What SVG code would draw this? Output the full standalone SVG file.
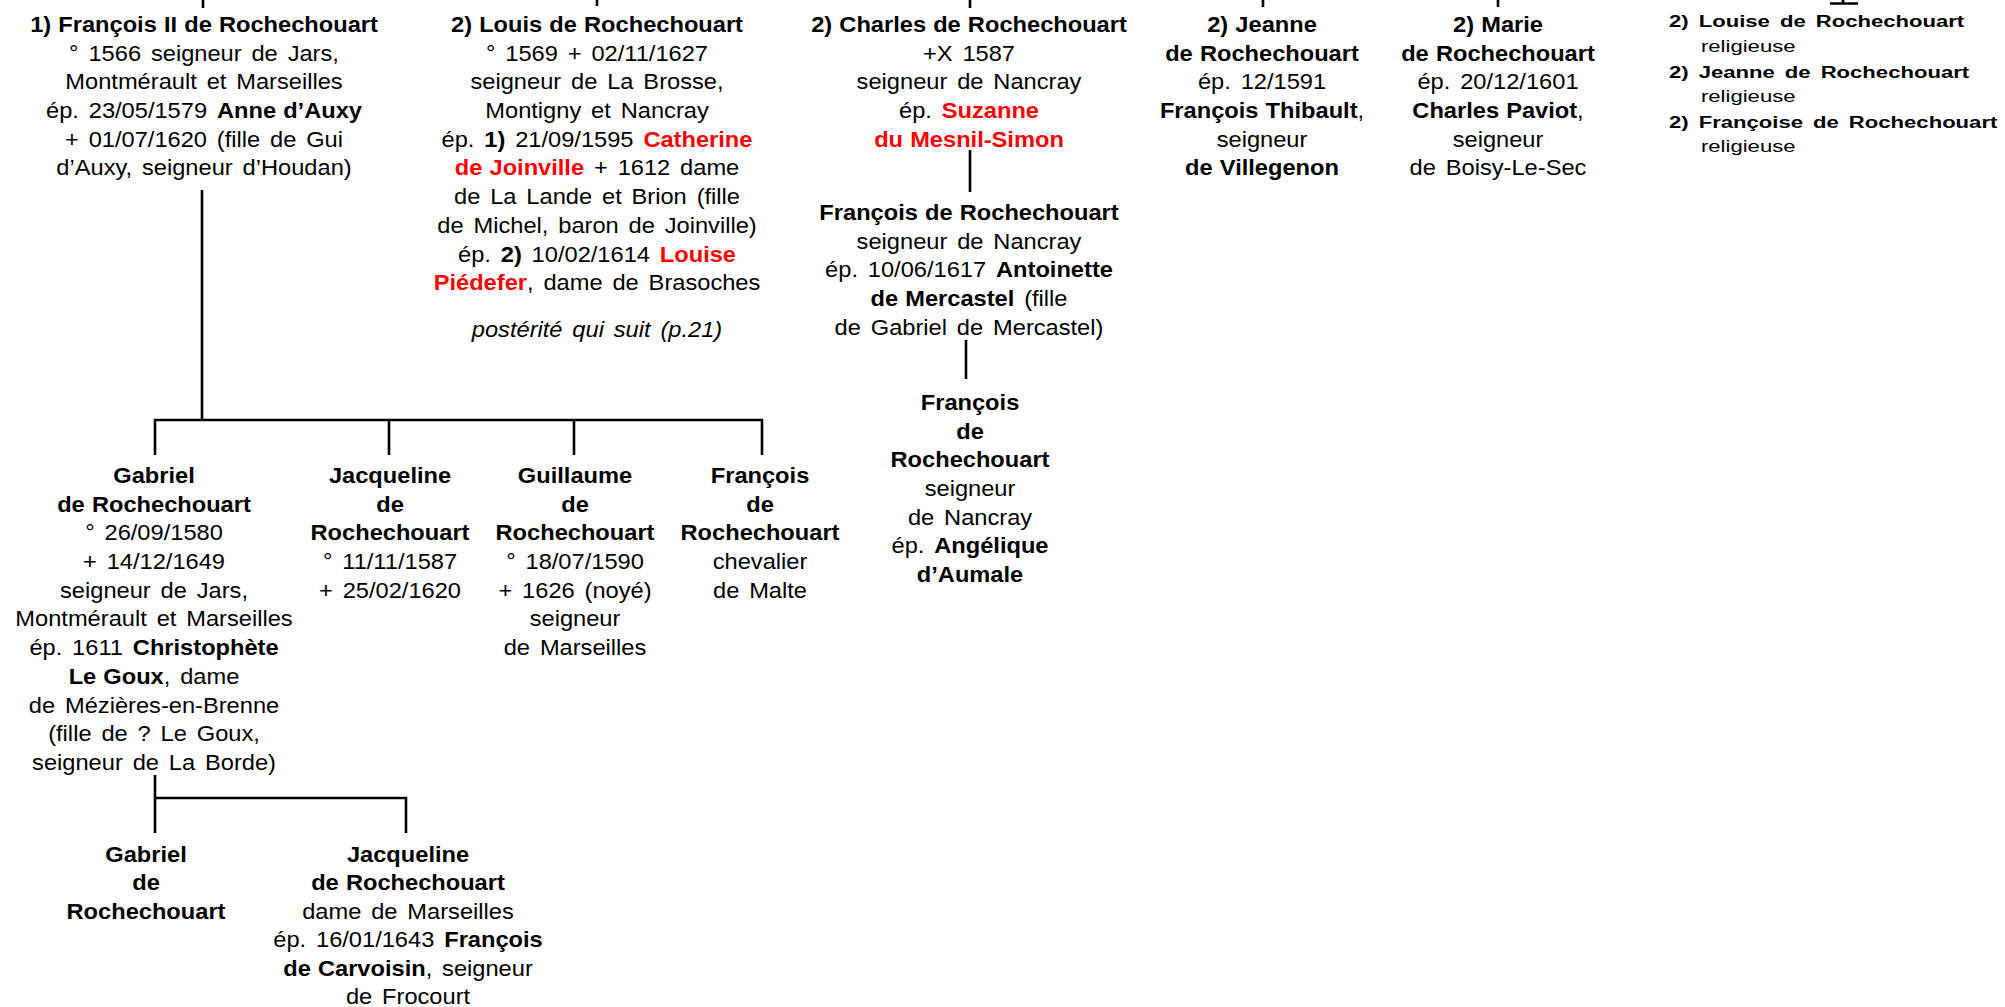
<svg xmlns="http://www.w3.org/2000/svg" width="2005" height="1007" viewBox="0 0 2005 1007">
<style>
text{font-family:"Liberation Sans",Arial,sans-serif;font-size:21.5px;text-anchor:middle;fill:#000;word-spacing:3px}
.b{font-weight:bold;word-spacing:0.5px}
.r{font-weight:bold;fill:#ff0000;word-spacing:0.5px}
.i{font-style:italic}
.s{font-size:17px;text-anchor:start}
.s.b{word-spacing:3px}
.c{fill:none;stroke:#000;stroke-width:2.6}
</style>
<rect width="2005" height="1007" fill="#fff"/>
<g id="connectors">
<path class="c" d="M203 0V8M597 0V6M970 0V8M1263 0V7M1498 0V7M1843 0V4M1830 3.5H1858"/>
<path class="c" d="M202 190V420M155 455V420H762V455M389 420V455M574 420V455"/>
<path class="c" d="M970 150V192M966 340V379"/>
<path class="c" d="M155 775V833M155 798H406V833"/>
</g>
<g id="n-francois2" transform="translate(204 0) scale(1.1 1)">
<text y="32" class="b">1) François II de Rochechouart</text>
<text y="60.7">° 1566 seigneur de Jars,</text>
<text y="89.4">Montmérault et Marseilles</text>
<text y="118.1">ép. 23/05/1579 <tspan class="b">Anne d’Auxy</tspan></text>
<text y="146.8">+ 01/07/1620 (fille de Gui</text>
<text y="175.5">d’Auxy, seigneur d’Houdan)</text>
</g>
<g id="n-louis" transform="translate(597 0) scale(1.1 1)">
<text y="32" class="b">2) Louis de Rochechouart</text>
<text y="60.7">° 1569 + 02/11/1627</text>
<text y="89.4">seigneur de La Brosse,</text>
<text y="118.1">Montigny et Nancray</text>
<text y="146.8">ép. <tspan class="b">1)</tspan> 21/09/1595 <tspan class="r">Catherine</tspan></text>
<text y="175.5"><tspan class="r">de Joinville</tspan> + 1612 dame</text>
<text y="204.2">de La Lande et Brion (fille</text>
<text y="232.9">de Michel, baron de Joinville)</text>
<text y="261.6">ép. <tspan class="b">2)</tspan> 10/02/1614 <tspan class="r">Louise</tspan></text>
<text y="290.3"><tspan class="r">Piédefer</tspan>, dame de Brasoches</text>
<text y="337" class="i">postérité qui suit (p.21)</text>
</g>
<g id="n-charles" transform="translate(969 0) scale(1.1 1)">
<text y="32" class="b">2) Charles de Rochechouart</text>
<text y="60.7">+X 1587</text>
<text y="89.4">seigneur de Nancray</text>
<text y="118.1">ép. <tspan class="r">Suzanne</tspan></text>
<text y="146.8" class="r">du Mesnil-Simon</text>
</g>
<g id="n-francois-nancray" transform="translate(969 0) scale(1.1 1)">
<text y="220" class="b">François de Rochechouart</text>
<text y="248.7">seigneur de Nancray</text>
<text y="277.4">ép. 10/06/1617 <tspan class="b">Antoinette</tspan></text>
<text y="306.1"><tspan class="b">de Mercastel</tspan> (fille</text>
<text y="334.8">de Gabriel de Mercastel)</text>
</g>
<g id="n-francois-nancray2" transform="translate(970 0) scale(1.1 1)">
<text y="410" class="b">François</text>
<text y="438.7" class="b">de</text>
<text y="467.4" class="b">Rochechouart</text>
<text y="496.1">seigneur</text>
<text y="524.8">de Nancray</text>
<text y="553.5">ép. <tspan class="b">Angélique</tspan></text>
<text y="582.2" class="b">d’Aumale</text>
</g>
<g id="n-jeanne" transform="translate(1262 0) scale(1.1 1)">
<text y="32" class="b">2) Jeanne</text>
<text y="60.7" class="b">de Rochechouart</text>
<text y="89.4">ép. 12/1591</text>
<text y="118.1"><tspan class="b">François Thibault</tspan>,</text>
<text y="146.8">seigneur</text>
<text y="175.5" class="b">de Villegenon</text>
</g>
<g id="n-marie" transform="translate(1498 0) scale(1.1 1)">
<text y="32" class="b">2) Marie</text>
<text y="60.7" class="b">de Rochechouart</text>
<text y="89.4">ép. 20/12/1601</text>
<text y="118.1"><tspan class="b">Charles Paviot</tspan>,</text>
<text y="146.8">seigneur</text>
<text y="175.5">de Boisy-Le-Sec</text>
</g>
<g id="n-religieuses" transform="translate(1669 0) scale(1.3 1)">
<text y="27" class="s b">2) Louise de Rochechouart</text>
<text x="24.6" y="52" class="s">religieuse</text>
<text y="78" class="s b">2) Jeanne de Rochechouart</text>
<text x="24.6" y="102" class="s">religieuse</text>
<text y="128" class="s b">2) Françoise de Rochechouart</text>
<text x="24.6" y="152" class="s">religieuse</text>
</g>
<g id="n-gabriel" transform="translate(154 0) scale(1.1 1)">
<text y="483" class="b">Gabriel</text>
<text y="511.7" class="b">de Rochechouart</text>
<text y="540.4">° 26/09/1580</text>
<text y="569.1">+ 14/12/1649</text>
<text y="597.8">seigneur de Jars,</text>
<text y="626.5">Montmérault et Marseilles</text>
<text y="655.2">ép. 1611 <tspan class="b">Christophète</tspan></text>
<text y="683.9"><tspan class="b">Le Goux</tspan>, dame</text>
<text y="712.6">de Mézières-en-Brenne</text>
<text y="741.3">(fille de ? Le Goux,</text>
<text y="770">seigneur de La Borde)</text>
</g>
<g id="n-jacqueline" transform="translate(390 0) scale(1.1 1)">
<text y="483" class="b">Jacqueline</text>
<text y="511.7" class="b">de</text>
<text y="540.4" class="b">Rochechouart</text>
<text y="569.1">° 11/11/1587</text>
<text y="597.8">+ 25/02/1620</text>
</g>
<g id="n-guillaume" transform="translate(575 0) scale(1.1 1)">
<text y="483" class="b">Guillaume</text>
<text y="511.7" class="b">de</text>
<text y="540.4" class="b">Rochechouart</text>
<text y="569.1">° 18/07/1590</text>
<text y="597.8">+ 1626 (noyé)</text>
<text y="626.5">seigneur</text>
<text y="655.2">de Marseilles</text>
</g>
<g id="n-francois-malte" transform="translate(760 0) scale(1.1 1)">
<text y="483" class="b">François</text>
<text y="511.7" class="b">de</text>
<text y="540.4" class="b">Rochechouart</text>
<text y="569.1">chevalier</text>
<text y="597.8">de Malte</text>
</g>
<g id="n-gabriel2" transform="translate(146 0) scale(1.1 1)">
<text y="862" class="b">Gabriel</text>
<text y="890.4" class="b">de</text>
<text y="918.8" class="b">Rochechouart</text>
</g>
<g id="n-jacqueline2" transform="translate(408 0) scale(1.1 1)">
<text y="862" class="b">Jacqueline</text>
<text y="890.4" class="b">de Rochechouart</text>
<text y="918.8">dame de Marseilles</text>
<text y="947.2">ép. 16/01/1643 <tspan class="b">François</tspan></text>
<text y="975.6"><tspan class="b">de Carvoisin</tspan>, seigneur</text>
<text y="1004">de Frocourt</text>
</g>
</svg>
